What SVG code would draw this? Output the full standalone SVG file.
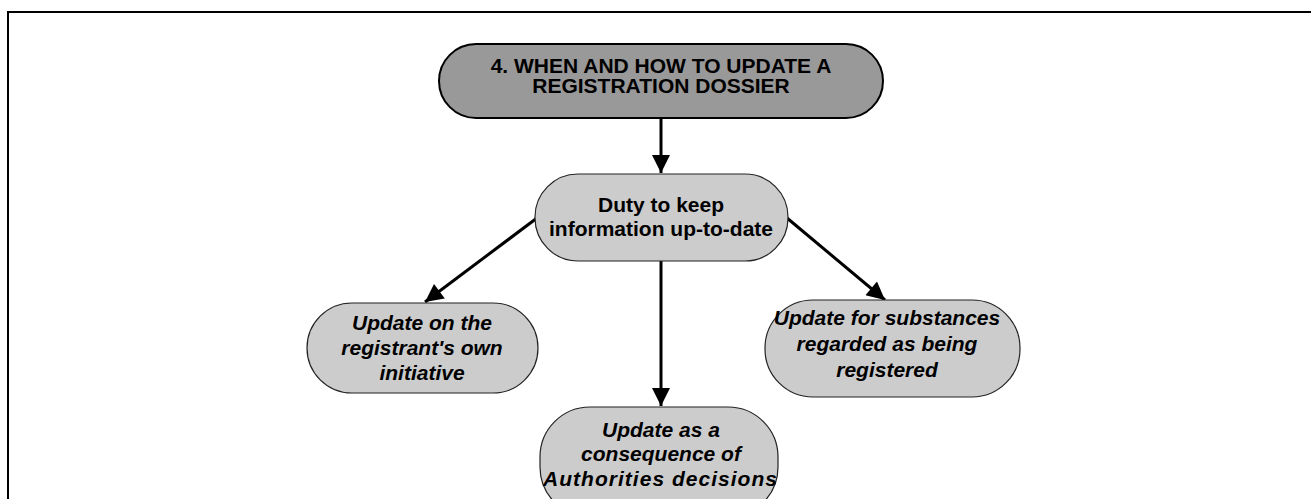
<svg xmlns="http://www.w3.org/2000/svg" width="1311" height="499" viewBox="0 0 1311 499">
<defs>
<marker id="ah" viewBox="0 0 10 10" refX="10" refY="5" markerWidth="7" markerHeight="6" markerUnits="strokeWidth" orient="auto">
<path d="M0,0 L10,5 L0,10 z" fill="#000"/>
</marker>
<style>
.n{fill:#cccccc;stroke:#222;stroke-width:1.2}
.top{fill:#999999;stroke:#000;stroke-width:2}
.t{font-family:"Liberation Sans",Arial,sans-serif;font-weight:bold;font-size:21px;text-anchor:middle;fill:#000}
.i{font-style:italic}
.c{stroke:#000;stroke-width:3;fill:none;marker-end:url(#ah)}
</style>
</defs>
<rect width="1311" height="499" fill="#fff"/>
<path d="M8,499 L8,12 L1311,12" fill="none" stroke="#000" stroke-width="2"/>
<g id="connectors">
<line class="c" x1="661" y1="118" x2="661" y2="173"/>
<line class="c" x1="537" y1="218" x2="425" y2="302"/>
<line class="c" x1="787" y1="218" x2="885" y2="300"/>
<line class="c" x1="661" y1="261" x2="661" y2="406"/>
</g>
<g id="n-top">
<rect class="top" x="439" y="44" width="444" height="74" rx="37" ry="37"/>
<text class="t" x="661" y="73">4. WHEN AND HOW TO UPDATE A</text>
<text class="t" x="661" y="93">REGISTRATION DOSSIER</text>
</g>
<g id="n-duty">
<rect class="n" x="535" y="174" width="253" height="87" rx="43" ry="43"/>
<text class="t" x="661" y="212">Duty to keep</text>
<text class="t" x="661" y="236">information up-to-date</text>
</g>
<g id="n-left">
<rect class="n" x="307" y="303" width="231" height="90" rx="45" ry="45"/>
<text class="t i" x="422" y="330">Update on the</text>
<text class="t i" x="422" y="355">registrant's own</text>
<text class="t i" x="422" y="380">initiative</text>
</g>
<g id="n-right">
<rect class="n" x="765" y="300" width="255" height="97" rx="48" ry="48"/>
<text class="t i" x="887" y="325">Update for substances</text>
<text class="t i" x="887" y="351">regarded as being</text>
<text class="t i" x="887" y="377">registered</text>
</g>
<g id="n-bottom">
<rect class="n" x="540" y="407" width="238" height="110" rx="50" ry="50"/>
<text class="t i" x="661" y="437">Update as a</text>
<text class="t i" x="661" y="461">consequence of</text>
<text class="t i" x="660" y="486" textLength="234" lengthAdjust="spacing">Authorities decisions</text>
</g>
</svg>
